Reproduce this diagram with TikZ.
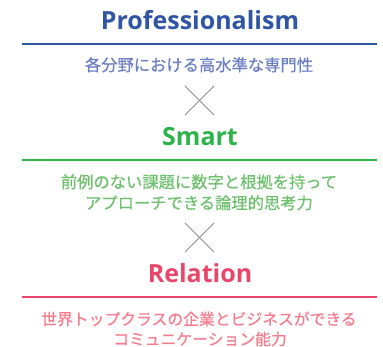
\documentclass[tikz,border=0pt]{standalone}
\usepackage{fontspec}
\setmainfont{Open Sans}
\newfontfamily\jpfont{Noto Sans CJK JP}[FakeBold=0.6]
\definecolor{cblue}{HTML}{2F55A4}
\definecolor{cbluel}{HTML}{6B7EC4}
\definecolor{cgreen}{HTML}{2DB34A}
\definecolor{cgreenl}{HTML}{6EBF6E}
\definecolor{cred}{HTML}{E9466B}
\definecolor{credl}{HTML}{F37D8E}
\definecolor{cgrey}{HTML}{8A8A96}
\begin{document}
\begin{tikzpicture}[x=1pt,y=-1pt,
  title/.style={anchor=base,inner sep=0pt,font=\fontsize{25}{25}\selectfont\bfseries},
  jp/.style={anchor=base,inner sep=0pt,font=\jpfont\fontsize{16.3}{16.3}\selectfont},
  rule/.style={line width=1.2pt},
  crossline/.style={draw=cgrey,line width=0.8pt}]
\useasboundingbox (0,0) rectangle (383,347);
% Professionalism
\node[title,text=cblue] (t1) at (200,30) {Professionalism};
\coordinate (l1a) at (22,44); \coordinate (l1b) at (377,44);
\draw[rule,cblue] (l1a) -- (l1b);
\node[jp,text=cbluel] (d1) at (199,71) {各分野における高水準な専門性};
% cross 1
\coordinate (c1a) at (185,86); \coordinate (c1b) at (214,115);
\coordinate (c1c) at (214,86); \coordinate (c1d) at (185,115);
\draw[crossline] (c1a) -- (c1b);
\draw[crossline] (c1c) -- (c1d);
% Smart
\node[title,text=cgreen] (t2) at (200,146) {Smart};
\coordinate (l2a) at (22,160); \coordinate (l2b) at (377,160);
\draw[rule,cgreen] (l2a) -- (l2b);
\node[jp,text=cgreenl] (d2a) at (199,188) {前例のない課題に数字と根拠を持って};
\node[jp,text=cgreenl] (d2b) at (199,209) {アプローチできる論理的思考力};
% cross 2
\coordinate (c2a) at (185,223); \coordinate (c2b) at (214,252);
\coordinate (c2c) at (214,223); \coordinate (c2d) at (185,252);
\draw[crossline] (c2a) -- (c2b);
\draw[crossline] (c2c) -- (c2d);
% Relation
\node[title,text=cred] (t3) at (200,283) {Relation};
\coordinate (l3a) at (22,297); \coordinate (l3b) at (377,297);
\draw[rule,cred] (l3a) -- (l3b);
\node[jp,text=credl,font=\jpfont\fontsize{15.8}{15.8}\selectfont] (d3a) at (199,325) {世界トップクラスの企業とビジネスができる};
\node[jp,text=credl,font=\jpfont\fontsize{15.8}{15.8}\selectfont] (d3b) at (200,345) {コミュニケーション能力};
\end{tikzpicture}
\end{document}
